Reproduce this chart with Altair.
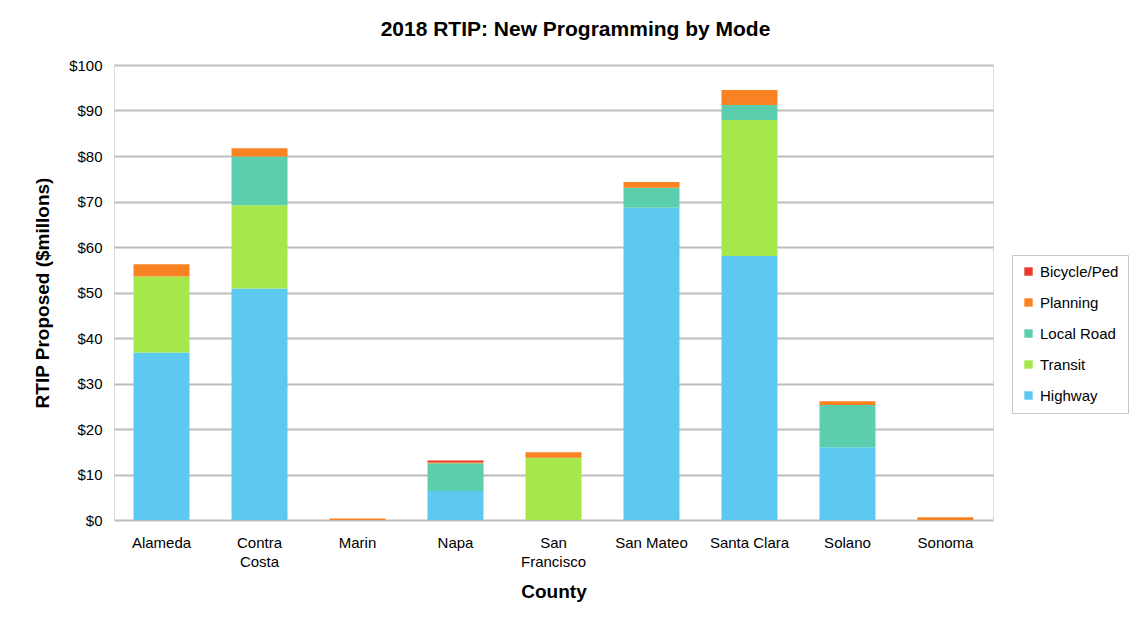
import altair as alt
import pandas as pd

counties = ["Alameda", "Contra Costa", "Marin", "Napa", "San Francisco",
            "San Mateo", "Santa Clara", "Solano", "Sonoma"]
modes = ["Highway", "Transit", "Local Road", "Planning", "Bicycle/Ped"]
highway = [36.8, 50.9, 0.0, 6.4, 0.0, 68.6, 58.0, 16.0, 0.0]
transit = [16.7, 18.3, 0.0, 0.0, 13.7, 0.0, 29.9, 0.0, 0.0]
local_road = [0.0, 10.7, 0.0, 6.1, 0.0, 4.4, 3.3, 9.3, 0.0]
planning = [2.7, 1.8, 0.35, 0.2, 1.2, 1.3, 3.3, 0.8, 0.6]
bike_ped = [0.0, 0.0, 0.0, 0.4, 0.0, 0.0, 0.0, 0.0, 0.0]
colors = ["#5DC9F1", "#A6E84C", "#5BCEAE", "#F98323", "#E8392A"]

series = [highway, transit, local_road, planning, bike_ped]
rows = []
for m_i, (mode, vals) in enumerate(zip(modes, series)):
    for c, v in zip(counties, vals):
        rows.append({"County": c, "Mode": mode, "Value": v, "order": m_i})
df = pd.DataFrame(rows)

label_expr = ("datum.label == 'Contra Costa' ? ['Contra','Costa'] : "
              "datum.label == 'San Francisco' ? ['San','Francisco'] : datum.label")

chart = alt.Chart(df).mark_bar(size=56).encode(
    x=alt.X("County:N", sort=counties, title="County",
            scale=alt.Scale(paddingInner=0.43, paddingOuter=0.2),
            axis=alt.Axis(labelAngle=0, labelExpr=label_expr, labelFontSize=15,
                          labelColor="#000", titleFontSize=19, titleFontWeight="bold",
                          titleColor="#000", ticks=False, domain=False,
                          labelPadding=15, titlePadding=13, labelLineHeight=19)),
    y=alt.Y("Value:Q", title="RTIP Proposed ($millons)",
            scale=alt.Scale(domain=[0, 100], nice=False),
            axis=alt.Axis(values=list(range(0, 101, 10)), labelExpr="'$' + datum.value",
                          labelFontSize=15, labelColor="#000", titleFontSize=19,
                          titleFontWeight="bold", titleColor="#000", ticks=False,
                          domain=False, labelPadding=12, titlePadding=16,
                          gridColor="#bdbdbd", gridWidth=1.8)),
    color=alt.Color("Mode:N", sort=modes,
                    scale=alt.Scale(domain=modes, range=colors),
                    legend=alt.Legend(title=None, orient="none", legendX=898, legendY=190,
                                      values=list(reversed(modes)),
                                      symbolType="square", symbolSize=70,
                                      symbolStrokeWidth=0, labelFontSize=15, labelColor="#000",
                                      rowPadding=15, strokeColor="#c8c8c8", padding=9,
                                      labelOffset=4, fillColor="white")),
    order=alt.Order("order:Q", sort="ascending"),
).properties(
    width=879, height=455,
    title=alt.TitleParams("2018 RTIP: New Programming by Mode", fontSize=21,
                          fontWeight="bold", color="#000", dx=22, offset=18),
    autosize=alt.AutoSizeParams(type="none"),
    padding={"left": 106, "top": 57, "right": 136, "bottom": 90},
).configure_view(
    stroke="#888888", strokeWidth=1.8
).configure(
    font="Liberation Sans", background="white"
)

chart.save("out.html", embed_options={"renderer": "svg", "actions": False})
